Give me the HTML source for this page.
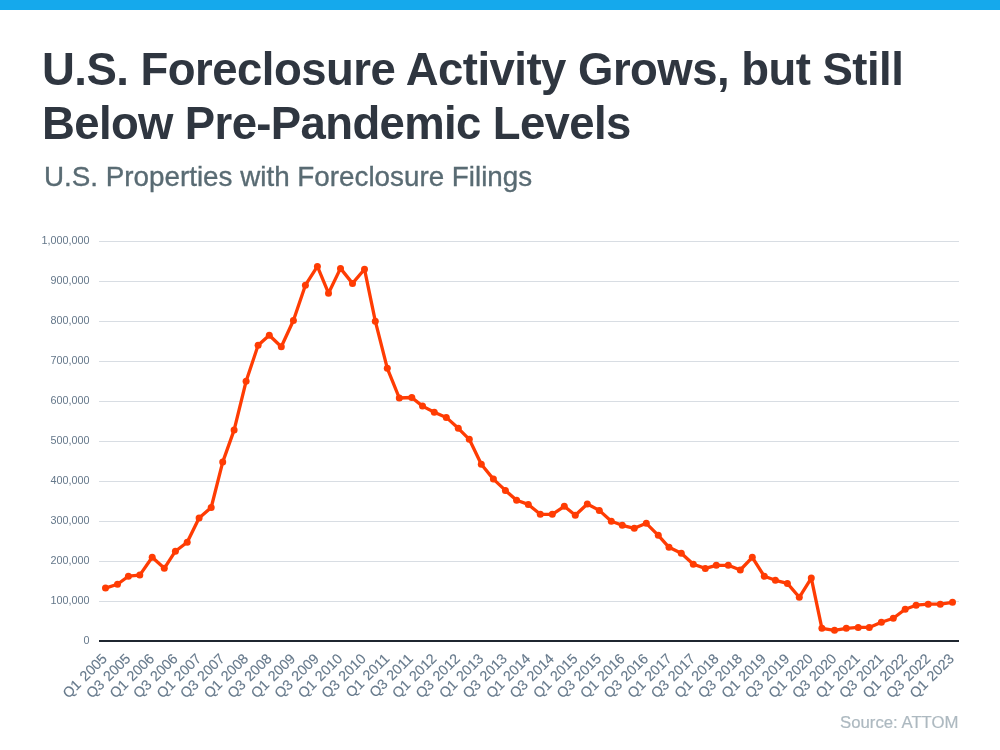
<!DOCTYPE html>
<html><head><meta charset="utf-8">
<style>
html,body{margin:0;padding:0;width:1000px;height:750px;overflow:hidden;background:#fff;}
body{position:relative;font-family:"Liberation Sans",sans-serif;}
.bar{position:absolute;left:0;top:0;width:1000px;height:10px;background:#15a9ec;}
h1{position:absolute;left:42px;top:43px;margin:0;font-size:45.5px;letter-spacing:-0.52px;line-height:54px;font-weight:bold;color:#2f3640;white-space:nowrap;}
.sub{position:absolute;left:44px;top:160.5px;margin:0;font-size:27.8px;line-height:32px;color:#596b73;-webkit-text-stroke:0.35px #596b73;white-space:nowrap;}
svg{position:absolute;left:0;top:0;}
h1,.sub,.src,svg{will-change:transform;}
.src{position:absolute;right:41px;top:712.5px;font-size:16.75px;line-height:20px;color:#adb9c0;-webkit-text-stroke:0.2px #adb9c0;}
</style></head><body>
<div class="bar"></div>
<h1>U.S. Foreclosure Activity Grows, but Still<br><span style="letter-spacing:-0.63px">Below Pre-Pandemic Levels</span></h1>
<div class="sub">U.S. Properties with Foreclosure Filings</div>
<svg width="1000" height="750" viewBox="0 0 1000 750">
<g stroke="#d8dde3" stroke-width="1"><line x1="99" y1="601.5" x2="959" y2="601.5"/><line x1="99" y1="561.5" x2="959" y2="561.5"/><line x1="99" y1="521.5" x2="959" y2="521.5"/><line x1="99" y1="481.5" x2="959" y2="481.5"/><line x1="99" y1="441.5" x2="959" y2="441.5"/><line x1="99" y1="401.5" x2="959" y2="401.5"/><line x1="99" y1="361.5" x2="959" y2="361.5"/><line x1="99" y1="321.5" x2="959" y2="321.5"/><line x1="99" y1="281.5" x2="959" y2="281.5"/><line x1="99" y1="241.5" x2="959" y2="241.5"/></g>
<g font-family="Liberation Sans, sans-serif" font-size="10.8" fill="#64778a" text-anchor="end"><text x="89.5" y="644.3">0</text><text x="89.5" y="604.3">100,000</text><text x="89.5" y="564.3">200,000</text><text x="89.5" y="524.3">300,000</text><text x="89.5" y="484.3">400,000</text><text x="89.5" y="444.3">500,000</text><text x="89.5" y="404.3">600,000</text><text x="89.5" y="364.3">700,000</text><text x="89.5" y="324.3">800,000</text><text x="89.5" y="284.3">900,000</text><text x="89.5" y="244.3">1,000,000</text></g>
<line x1="99" y1="641" x2="959" y2="641" stroke="#1f2630" stroke-width="2"/>
<path d="M105.5 588.1 L117.5 584.3 L128.4 576.2 L139.8 575.1 L152.2 557.2 L164.3 568.3 L175.4 551.2 L187.2 542.2 L199.1 518.1 L211.2 507.5 L222.7 462.1 L234.1 430.1 L246.1 381.3 L258.1 345.3 L269.3 335.2 L281.3 346.7 L293.4 320.5 L305.4 285.2 L317.4 266.4 L328.5 293.2 L340.5 268.4 L352.5 283.4 L364.5 269.2 L375.3 321.2 L387.3 368.3 L399.3 398.0 L411.8 397.5 L422.5 406.1 L434.3 412.3 L446.3 417.4 L458.3 428.3 L469.3 439.3 L481.3 464.3 L493.4 479.1 L505.4 490.4 L516.6 500.3 L528.3 504.4 L540.3 514.3 L552.3 514.3 L564.3 506.3 L575.3 515.3 L587.3 504.0 L599.3 510.4 L611.3 521.3 L622.3 525.3 L634.3 528.3 L646.3 523.3 L658.3 535.3 L669.0 547.3 L681.3 553.3 L693.3 564.3 L705.3 568.4 L716.3 565.3 L728.3 565.3 L740.3 570.0 L752.3 557.3 L764.3 576.3 L775.4 580.3 L787.4 583.4 L799.3 597.3 L811.3 578.1 L821.9 628.3 L834.5 630.3 L846.3 628.3 L858.2 627.4 L869.3 627.4 L881.4 622.2 L893.3 618.3 L905.2 609.2 L916.1 605.2 L928.2 604.2 L940.3 604.2 L952.5 602.3" fill="none" stroke="#ff3c03" stroke-width="3.3" stroke-linejoin="round"/>
<g fill="#ff3c03"><circle cx="105.5" cy="588.1" r="3.5"/><circle cx="117.5" cy="584.3" r="3.5"/><circle cx="128.4" cy="576.2" r="3.5"/><circle cx="139.8" cy="575.1" r="3.5"/><circle cx="152.2" cy="557.2" r="3.5"/><circle cx="164.3" cy="568.3" r="3.5"/><circle cx="175.4" cy="551.2" r="3.5"/><circle cx="187.2" cy="542.2" r="3.5"/><circle cx="199.1" cy="518.1" r="3.5"/><circle cx="211.2" cy="507.5" r="3.5"/><circle cx="222.7" cy="462.1" r="3.5"/><circle cx="234.1" cy="430.1" r="3.5"/><circle cx="246.1" cy="381.3" r="3.5"/><circle cx="258.1" cy="345.3" r="3.5"/><circle cx="269.3" cy="335.2" r="3.5"/><circle cx="281.3" cy="346.7" r="3.5"/><circle cx="293.4" cy="320.5" r="3.5"/><circle cx="305.4" cy="285.2" r="3.5"/><circle cx="317.4" cy="266.4" r="3.5"/><circle cx="328.5" cy="293.2" r="3.5"/><circle cx="340.5" cy="268.4" r="3.5"/><circle cx="352.5" cy="283.4" r="3.5"/><circle cx="364.5" cy="269.2" r="3.5"/><circle cx="375.3" cy="321.2" r="3.5"/><circle cx="387.3" cy="368.3" r="3.5"/><circle cx="399.3" cy="398.0" r="3.5"/><circle cx="411.8" cy="397.5" r="3.5"/><circle cx="422.5" cy="406.1" r="3.5"/><circle cx="434.3" cy="412.3" r="3.5"/><circle cx="446.3" cy="417.4" r="3.5"/><circle cx="458.3" cy="428.3" r="3.5"/><circle cx="469.3" cy="439.3" r="3.5"/><circle cx="481.3" cy="464.3" r="3.5"/><circle cx="493.4" cy="479.1" r="3.5"/><circle cx="505.4" cy="490.4" r="3.5"/><circle cx="516.6" cy="500.3" r="3.5"/><circle cx="528.3" cy="504.4" r="3.5"/><circle cx="540.3" cy="514.3" r="3.5"/><circle cx="552.3" cy="514.3" r="3.5"/><circle cx="564.3" cy="506.3" r="3.5"/><circle cx="575.3" cy="515.3" r="3.5"/><circle cx="587.3" cy="504.0" r="3.5"/><circle cx="599.3" cy="510.4" r="3.5"/><circle cx="611.3" cy="521.3" r="3.5"/><circle cx="622.3" cy="525.3" r="3.5"/><circle cx="634.3" cy="528.3" r="3.5"/><circle cx="646.3" cy="523.3" r="3.5"/><circle cx="658.3" cy="535.3" r="3.5"/><circle cx="669.0" cy="547.3" r="3.5"/><circle cx="681.3" cy="553.3" r="3.5"/><circle cx="693.3" cy="564.3" r="3.5"/><circle cx="705.3" cy="568.4" r="3.5"/><circle cx="716.3" cy="565.3" r="3.5"/><circle cx="728.3" cy="565.3" r="3.5"/><circle cx="740.3" cy="570.0" r="3.5"/><circle cx="752.3" cy="557.3" r="3.5"/><circle cx="764.3" cy="576.3" r="3.5"/><circle cx="775.4" cy="580.3" r="3.5"/><circle cx="787.4" cy="583.4" r="3.5"/><circle cx="799.3" cy="597.3" r="3.5"/><circle cx="811.3" cy="578.1" r="3.5"/><circle cx="821.9" cy="628.3" r="3.5"/><circle cx="834.5" cy="630.3" r="3.5"/><circle cx="846.3" cy="628.3" r="3.5"/><circle cx="858.2" cy="627.4" r="3.5"/><circle cx="869.3" cy="627.4" r="3.5"/><circle cx="881.4" cy="622.2" r="3.5"/><circle cx="893.3" cy="618.3" r="3.5"/><circle cx="905.2" cy="609.2" r="3.5"/><circle cx="916.1" cy="605.2" r="3.5"/><circle cx="928.2" cy="604.2" r="3.5"/><circle cx="940.3" cy="604.2" r="3.5"/><circle cx="952.5" cy="602.3" r="3.5"/></g>
<g font-family="Liberation Sans, sans-serif" font-size="14.3" fill="#66798b" stroke="#66798b" stroke-width="0.15" text-anchor="end" word-spacing="1"><text transform="translate(108.0,659.5) rotate(-45)">Q1 2005</text><text transform="translate(131.5,659.5) rotate(-45)">Q3 2005</text><text transform="translate(155.1,659.5) rotate(-45)">Q1 2006</text><text transform="translate(178.6,659.5) rotate(-45)">Q3 2006</text><text transform="translate(202.1,659.5) rotate(-45)">Q1 2007</text><text transform="translate(225.6,659.5) rotate(-45)">Q3 2007</text><text transform="translate(249.2,659.5) rotate(-45)">Q1 2008</text><text transform="translate(272.7,659.5) rotate(-45)">Q3 2008</text><text transform="translate(296.2,659.5) rotate(-45)">Q1 2009</text><text transform="translate(319.8,659.5) rotate(-45)">Q3 2009</text><text transform="translate(343.3,659.5) rotate(-45)">Q1 2010</text><text transform="translate(366.8,659.5) rotate(-45)">Q3 2010</text><text transform="translate(390.3,659.5) rotate(-45)">Q1 2011</text><text transform="translate(413.9,659.5) rotate(-45)">Q3 2011</text><text transform="translate(437.4,659.5) rotate(-45)">Q1 2012</text><text transform="translate(460.9,659.5) rotate(-45)">Q3 2012</text><text transform="translate(484.4,659.5) rotate(-45)">Q1 2013</text><text transform="translate(508.0,659.5) rotate(-45)">Q3 2013</text><text transform="translate(531.5,659.5) rotate(-45)">Q1 2014</text><text transform="translate(555.0,659.5) rotate(-45)">Q3 2014</text><text transform="translate(578.6,659.5) rotate(-45)">Q1 2015</text><text transform="translate(602.1,659.5) rotate(-45)">Q3 2015</text><text transform="translate(625.6,659.5) rotate(-45)">Q1 2016</text><text transform="translate(649.1,659.5) rotate(-45)">Q3 2016</text><text transform="translate(672.7,659.5) rotate(-45)">Q1 2017</text><text transform="translate(696.2,659.5) rotate(-45)">Q3 2017</text><text transform="translate(719.7,659.5) rotate(-45)">Q1 2018</text><text transform="translate(743.2,659.5) rotate(-45)">Q3 2018</text><text transform="translate(766.8,659.5) rotate(-45)">Q1 2019</text><text transform="translate(790.3,659.5) rotate(-45)">Q3 2019</text><text transform="translate(813.8,659.5) rotate(-45)">Q1 2020</text><text transform="translate(837.4,659.5) rotate(-45)">Q3 2020</text><text transform="translate(860.9,659.5) rotate(-45)">Q1 2021</text><text transform="translate(884.4,659.5) rotate(-45)">Q3 2021</text><text transform="translate(907.9,659.5) rotate(-45)">Q1 2022</text><text transform="translate(931.5,659.5) rotate(-45)">Q3 2022</text><text transform="translate(955.0,659.5) rotate(-45)">Q1 2023</text></g>
</svg>
<div class="src">Source: ATTOM</div>
</body></html>
